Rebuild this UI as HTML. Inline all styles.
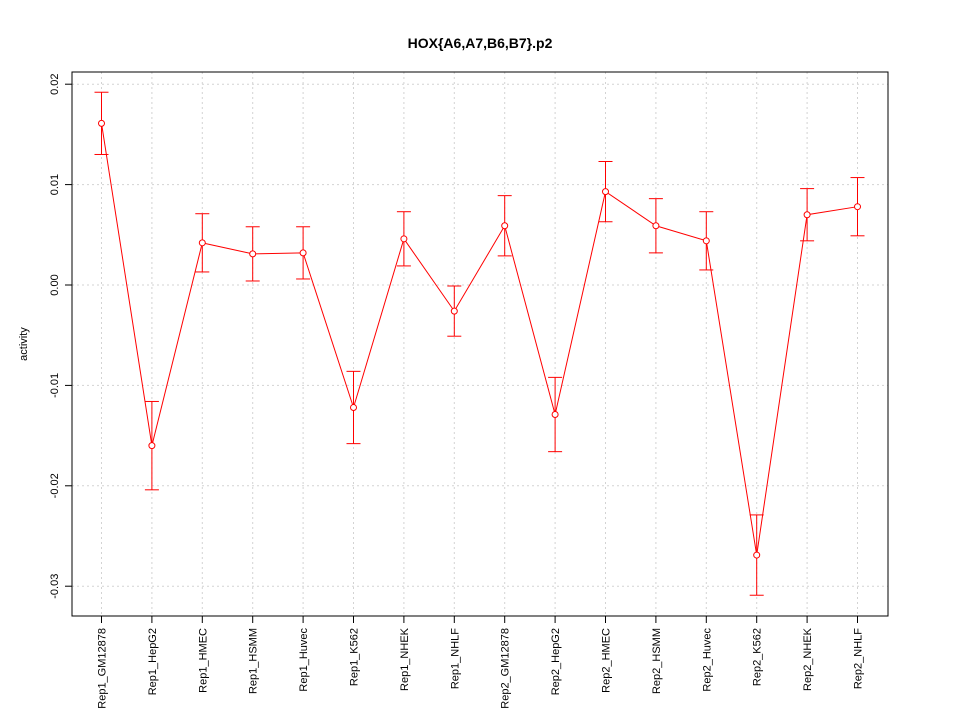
<!DOCTYPE html>
<html><head><meta charset="utf-8"><style>
body{margin:0;background:#fff;}
svg{display:block;font-family:"Liberation Sans",Arial,sans-serif;}
</style></head><body>
<svg id="chart" width="960" height="720"></svg>
<script>
const categories=["Rep1_GM12878","Rep1_HepG2","Rep1_HMEC","Rep1_HSMM","Rep1_Huvec","Rep1_K562","Rep1_NHEK","Rep1_NHLF","Rep2_GM12878","Rep2_HepG2","Rep2_HMEC","Rep2_HSMM","Rep2_Huvec","Rep2_K562","Rep2_NHEK","Rep2_NHLF"];
const values=[0.0161,-0.0160,0.0042,0.0031,0.0032,-0.0122,0.0046,-0.0026,0.0059,-0.0129,0.0093,0.0059,0.0044,-0.0269,0.0070,0.0078];
const errors=[0.0031,0.0044,0.0029,0.0027,0.0026,0.0036,0.0027,0.0025,0.0030,0.0037,0.0030,0.0027,0.0029,0.0040,0.0026,0.0029];
const yTicks=[0.02,0.01,0.00,-0.01,-0.02,-0.03];
const yTickLabels=["0.02","0.01","0.00","-0.01","-0.02","-0.03"];

const svg=document.getElementById('chart');
const NS="http://www.w3.org/2000/svg";
const L=72,R=888,T=72,B=616;
function x(i){return 101.5+i*(857.5-101.5)/(categories.length-1);}
function y(v){return 285-v*10040;}
function mk(tag,attrs,parent){const e=document.createElementNS(NS,tag);for(const k in attrs)e.setAttribute(k,attrs[k]);(parent||svg).appendChild(e);return e;}

const title=mk('text',{x:480,y:48,'text-anchor':'middle','font-size':14,'font-weight':'bold'});
title.textContent="HOX{A6,A7,B6,B7}.p2";



const grid=mk('g',{});


categories.forEach((c,i)=>{mk('line',{x1:x(i),x2:x(i),y1:T,y2:B,stroke:'#d3d3d3','stroke-dasharray':'2,3'},grid);});
yTicks.forEach(t=>{mk('line',{x1:L,x2:R,y1:y(t),y2:y(t),stroke:'#d3d3d3','stroke-dasharray':'2,3'},grid);});

const frame=mk('rect',{x:L,y:T,width:R-L,height:B-T,fill:'none',stroke:'#000'});



const yAxis=mk('g',{});


yTicks.forEach((t,k)=>{
  mk('line',{x1:L-7,x2:L,y1:y(t),y2:y(t),stroke:'#000'},yAxis);
  const tx=mk('text',{x:0,y:0,transform:`translate(${L-14},${y(t)}) rotate(-90)`,'text-anchor':'middle','font-size':11},yAxis);
  tx.textContent=yTickLabels[k];
});
const yl=mk('text',{x:0,y:0,transform:'translate(27,344) rotate(-90)','text-anchor':'middle','font-size':11});
yl.textContent="activity";



const xAxis=mk('g',{});


categories.forEach((c,i)=>{
  mk('line',{x1:x(i),x2:x(i),y1:B,y2:B+7,stroke:'#000'},xAxis);
  const tx=mk('text',{x:0,y:0,transform:`translate(${x(i)+4},${B+12}) rotate(-90)`,'text-anchor':'end','font-size':11},xAxis);
  tx.textContent=c;
});

const series=mk('g',{});


const line=mk('polyline',{points:values.map((v,i)=>x(i)+','+y(v)).join(' '),fill:'none',stroke:'#ff0000'},series);


values.forEach((v,i)=>{
  const g=mk('g',{},series);
  
  
  const hi=y(v+errors[i]),lo=y(v-errors[i]);
  mk('line',{x1:x(i),x2:x(i),y1:hi,y2:lo,stroke:'#ff0000'},g);
  mk('line',{x1:x(i)-7,x2:x(i)+7,y1:hi,y2:hi,stroke:'#ff0000'},g);
  mk('line',{x1:x(i)-7,x2:x(i)+7,y1:lo,y2:lo,stroke:'#ff0000'},g);
  const p=mk('circle',{cx:x(i),cy:y(v),r:3,fill:'#fff',stroke:'#ff0000'},series);
  
  
});
</script>
</body></html>
